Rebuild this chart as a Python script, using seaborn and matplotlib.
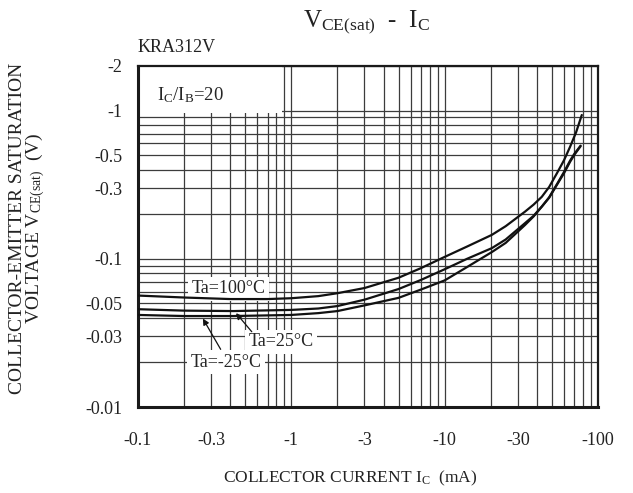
import numpy as np
import pandas as pd
import matplotlib
matplotlib.use("Agg")
import matplotlib.pyplot as plt
import seaborn as sns
from matplotlib.ticker import FixedLocator, FixedFormatter, LogLocator, NullFormatter
from matplotlib.patches import Rectangle

# ---------------- data ----------------
ic_100 = [0.1, 0.2, 0.4, 0.7, 1.0, 1.5, 2.0, 3.0, 5.0, 7.0, 10.0, 14.0, 20.3, 25.0,
          33.4, 38.0, 43.0, 48.0, 53.9, 60.0, 65.8, 72.0, 78.4]
vce_100 = [0.0565, 0.0548, 0.0535, 0.0535, 0.0542, 0.056, 0.0586, 0.0635, 0.0745, 0.0865,
           0.103, 0.121, 0.145, 0.166, 0.208, 0.232, 0.262, 0.305, 0.377, 0.462, 0.571,
           0.715, 0.934]
ic_25 = [0.1, 0.2, 0.42, 1.0, 1.5, 2.0, 3.0, 5.0, 7.0, 10.0, 14.0, 20.3, 25.0, 33.4,
         38.0, 43.0, 48.0, 53.9, 60.0, 65.8, 70.0, 77.0]
vce_25 = [0.0457, 0.0447, 0.0444, 0.0452, 0.0462, 0.048, 0.053, 0.0625, 0.072, 0.085,
          0.1, 0.118, 0.135, 0.174, 0.195, 0.225, 0.258, 0.315, 0.378, 0.452, 0.502, 0.575]
ic_m25 = [0.1, 0.2, 0.42, 1.0, 1.5, 2.0, 3.0, 5.0, 7.0, 10.0, 14.0, 20.3, 25.0, 33.4,
          38.0, 43.0, 48.0, 53.9, 60.0, 65.8, 70.0, 77.0]
vce_m25 = [0.0418, 0.0411, 0.0411, 0.0418, 0.043, 0.0444, 0.0485, 0.0545, 0.062, 0.0715,
           0.088, 0.111, 0.128, 0.169, 0.193, 0.225, 0.26, 0.318, 0.385, 0.46, 0.51, 0.58]
series_names = ["Ta=100°C", "Ta=25°C", "Ta=-25°C"]

x_ticks = [0.1, 0.3, 1, 3, 10, 30, 100]
x_ticklabels = ["-0.1", "-0.3", "-1", "-3", "-10", "-30", "-100"]
y_ticks = [2, 1, 0.5, 0.3, 0.1, 0.05, 0.03, 0.01]
y_ticklabels = ["-2", "-1", "-0.5", "-0.3", "-0.1", "-0.05", "-0.03", "-0.01"]

df = pd.concat([
    pd.DataFrame({"Ic": ic_100, "Vce": vce_100, "series": series_names[0]}),
    pd.DataFrame({"Ic": ic_25, "Vce": vce_25, "series": series_names[1]}),
    pd.DataFrame({"Ic": ic_m25, "Vce": vce_m25, "series": series_names[2]}),
], ignore_index=True)

# ---------------- style ----------------
sns.set_theme(style="white")
plt.rcParams["font.family"] = ["Liberation Serif", "DejaVu Serif"]
plt.rcParams["mathtext.fontset"] = "custom"
plt.rcParams["mathtext.rm"] = "Liberation Serif"
plt.rcParams["mathtext.it"] = "Liberation Serif:italic"
plt.rcParams["mathtext.bf"] = "Liberation Serif:bold"

fig = plt.figure(figsize=(6.33, 4.93), dpi=100)
ax = fig.add_axes([138 / 633, 1 - 407 / 493, 460 / 633, 341 / 493])
ax.set_xscale("log")
ax.set_yscale("log")

sns.lineplot(data=df, x="Ic", y="Vce", hue="series", palette=["#111111"] * 3,
             sort=False, estimator=None, legend=False, linewidth=1.6, ax=ax, zorder=3)

ax.set_xlim(0.1, 100)
ax.set_ylim(0.01, 2)

ax.xaxis.set_major_locator(FixedLocator(x_ticks))
ax.xaxis.set_major_formatter(FixedFormatter(x_ticklabels))
ax.yaxis.set_major_locator(FixedLocator(y_ticks))
ax.yaxis.set_major_formatter(FixedFormatter(y_ticklabels))
ax.xaxis.set_minor_locator(LogLocator(base=10, subs=np.arange(1, 10), numticks=50))
ax.yaxis.set_minor_locator(LogLocator(base=10, subs=np.arange(1, 10), numticks=50))
ax.xaxis.set_minor_formatter(NullFormatter())
ax.yaxis.set_minor_formatter(NullFormatter())
ax.tick_params(which="both", length=0, labelsize=13, colors="#222222")
ax.tick_params(axis="x", pad=18)
ax.tick_params(axis="y", pad=11)

ax.set_axisbelow(True)
ax.grid(which="both", color="#3c3c3c", linewidth=0.9)

for s in ax.spines.values():
    s.set_color("#1a1a1a")
    s.set_linewidth(1.6)
ax.spines["left"].set_linewidth(2.2)
ax.spines["bottom"].set_linewidth(2.2)

ax.set_xlabel("")
ax.set_ylabel("")

# white box behind the condition label
ax.add_patch(Rectangle((0, 0.862), 0.313, 0.138, transform=ax.transAxes,
                       facecolor="white", edgecolor="none", zorder=1))
ax.text(0.041, 0.915, r"$\mathrm{I_C/I_B}$=20", transform=ax.transAxes,
        fontsize=13.5, ha="left", va="center", zorder=4)

box = dict(facecolor="white", edgecolor="none", pad=2.5)
ax.text(0.39, 0.0626, "Ta=100°C", fontsize=13, ha="center", va="center", bbox=box, zorder=2)
ax.text(0.86, 0.0275, "Ta=25°C", fontsize=13, ha="center", va="center", bbox=box, zorder=2)
ax.text(0.375, 0.0201, "Ta=-25°C", fontsize=13, ha="center", va="center", bbox=box, zorder=2)

arrow = dict(arrowstyle="-|>", color="#111111", lw=0.9, mutation_scale=9, shrinkA=0, shrinkB=0)
ax.annotate("", xy=(0.436, 0.043), xytext=(0.552, 0.0322), arrowprops=arrow, zorder=4)
ax.annotate("", xy=(0.265, 0.0395), xytext=(0.346, 0.0245), arrowprops=arrow, zorder=4)

# titles and axis labels
fig.text(366 / 633, 1 - 22 / 493, r"$\mathrm{V_{CE(sat)}}$  -  $\mathrm{I_C}$",
         fontsize=18, ha="center", va="center", color="#222222")
fig.text(138 / 633, 1 - 47 / 493, "KRA312V", fontsize=13, ha="left", va="center",
         color="#222222")
fig.text(350 / 633, 1 - 478 / 493, r"COLLECTOR CURRENT $\mathrm{I_C}$  (mA)",
         fontsize=12.5, ha="center", va="center", color="#222222")
fig.text(28 / 633, 1 - 228 / 493,
         "COLLECTOR-EMITTER SATURATION\n" + r"VOLTAGE $\mathrm{V_{CE(sat)}}$  (V)",
         fontsize=14, ha="center", va="center", rotation=90, linespacing=0.9,
         color="#222222")

fig.savefig("out.png", dpi=100, facecolor="white")
